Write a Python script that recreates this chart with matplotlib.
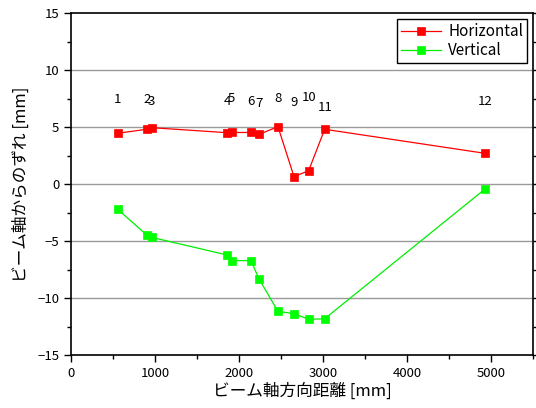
import matplotlib
matplotlib.use("Agg")
import matplotlib.pyplot as plt
from matplotlib.ticker import MultipleLocator

plt.rcParams["font.family"] = ["Noto Sans CJK JP", "DejaVu Sans"]

# beam-axis distance [mm] for each measurement point
distance = [556, 901, 960, 1861, 1913, 2143, 2238, 2464, 2655, 2829, 3020, 4929]
horizontal = [4.45, 4.8, 4.94, 4.5, 4.52, 4.52, 4.35, 5.03, 0.64, 1.17, 4.8, 2.69]
vertical = [-2.22, -4.47, -4.68, -6.23, -6.72, -6.72, -8.33, -11.17, -11.37, -11.87, -11.82, -0.44]

point_names = ["1", "2", "3", "4", "5", "6", "7", "8", "9", "10", "11", "12"]
name_height = [7.37, 7.37, 7.28, 7.22, 7.46, 7.28, 7.08, 7.52, 7.19, 7.57, 6.69, 7.22]

fig = plt.figure(figsize=(5.36, 4.08), dpi=100)
ax = fig.add_axes([71 / 536, 1 - 355 / 408, (533 - 71) / 536, (355 - 13) / 408])

for y in [-10, -5, 0, 5, 10]:
    ax.axhline(y, color="#9a9a9a", lw=1, zorder=0)

ax.plot(distance, horizontal, color="#ff0000", lw=0.9, marker="s", ms=5.8,
        mew=0.5, mec="#ff0000", mfc="#ff0000", label="Horizontal")
ax.plot(distance, vertical, color="#00ee00", lw=0.9, marker="s", ms=5.8,
        mew=0.5, mec="#00ff00", mfc="#00ff00", label="Vertical")

for x, y, name in zip(distance, name_height, point_names):
    ax.text(x, y, name, ha="center", va="center", fontsize=9.5)

ax.set_xlim(0, 5500)
ax.set_ylim(-15, 15)
ax.xaxis.set_major_locator(MultipleLocator(1000))
ax.xaxis.set_minor_locator(MultipleLocator(500))
ax.yaxis.set_major_locator(MultipleLocator(5))
ax.yaxis.set_minor_locator(MultipleLocator(2.5))
ax.tick_params(which="both", direction="out", labelsize=9.5, width=1,
               right=True, top=False)
ax.tick_params(which="major", length=5)
ax.tick_params(which="minor", length=3)
for s in ax.spines.values():
    s.set_linewidth(1.2)

ax.set_xlabel("ビーム軸方向距離 [mm]", fontsize=12, labelpad=2)
ax.set_ylabel("ビーム軸からのずれ [mm]", fontsize=12, labelpad=5)

ax.legend(loc="upper right", fontsize=11, fancybox=False, edgecolor="black",
          framealpha=1, borderpad=0.25, handlelength=2.6, labelspacing=0.15,
          handletextpad=0.5, borderaxespad=0,
          bbox_to_anchor=(0.987, 0.982))

fig.savefig("out.png", dpi=100)
